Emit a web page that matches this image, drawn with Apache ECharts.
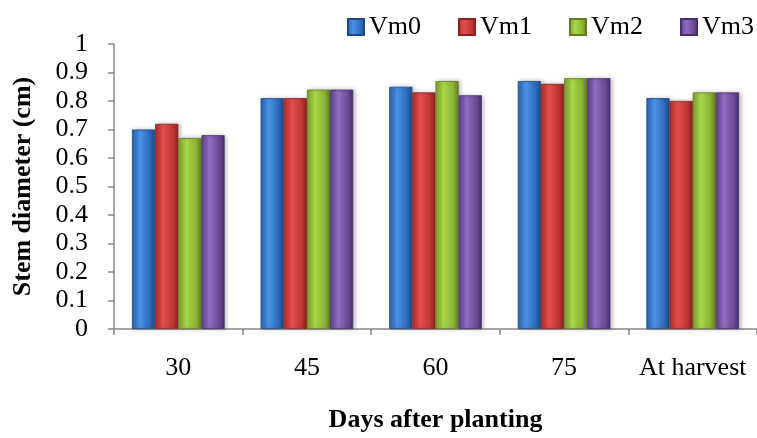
<!DOCTYPE html>
<html>
<head>
<meta charset="utf-8">
<script src="https://cdn.jsdelivr.net/npm/echarts@6/dist/echarts.min.js"></script>
<style>html,body{margin:0;padding:0;background:#fff;}#c{width:757px;height:438px;}</style>
</head>
<body>
<div id="c"></div>
<script>
const categories = ['30', '45', '60', '75', 'At harvest'];
const seriesNames = ['Vm0', 'Vm1', 'Vm2', 'Vm3'];
const vm0 = [0.70, 0.81, 0.85, 0.87, 0.81];
const vm1 = [0.72, 0.81, 0.83, 0.86, 0.80];
const vm2 = [0.67, 0.84, 0.87, 0.88, 0.83];
const vm3 = [0.68, 0.84, 0.82, 0.88, 0.83];
const yTicks = [0, 0.1, 0.2, 0.3, 0.4, 0.5, 0.6, 0.7, 0.8, 0.9, 1];

const palette = [
  ['#2a62b0', '#4c92e4', '#2f6cc0', '#1f4a85'],
  ['#b02e2c', '#e34e4b', '#c03835', '#8c2221'],
  ['#7fa02c', '#aad64a', '#8db636', '#627d22'],
  ['#5e4289', '#8f6cc0', '#6c4c9a', '#48306a']
];
function grad(p) {
  return new echarts.graphic.LinearGradient(0, 0, 1, 0, [
    { offset: 0, color: p[0] },
    { offset: 0.35, color: p[1] },
    { offset: 0.75, color: p[2] },
    { offset: 1, color: p[3] }
  ]);
}
const data = [vm0, vm1, vm2, vm3];
const font = 'Liberation Serif, Times New Roman, serif';

const chart = echarts.init(document.getElementById('c'), null, { renderer: 'canvas' });
chart.setOption({
  animation: false,
  backgroundColor: '#fff',
  legend: {
    data: seriesNames,
    left: 347,
    top: 14,
    padding: 0,
    itemWidth: 16,
    itemHeight: 16,
    itemGap: 37,
    icon: 'rect',
    textStyle: { fontFamily: font, fontSize: 26, color: '#000' }
  },
  grid: { left: 114, right: -10, top: 44, bottom: 104, containLabel: false },
  xAxis: {
    type: 'category',
    data: categories,
    name: 'Days after planting',
    nameLocation: 'middle',
    nameGap: 78,
    nameTextStyle: { fontFamily: font, fontSize: 26, fontWeight: 'bold', color: '#000' },
    axisLine: { lineStyle: { color: '#888', width: 1.5 } },
    axisTick: { show: true, length: 6, lineStyle: { color: '#888', width: 1.5 } },
    axisLabel: { interval: 0, hideOverlap: false, fontFamily: font, fontSize: 26, color: '#000', margin: 26 }
  },
  yAxis: {
    type: 'value',
    min: 0,
    max: 1,
    interval: 0.1,
    name: 'Stem diameter (cm)',
    nameLocation: 'middle',
    nameGap: 78,
    nameRotate: 90,
    nameTextStyle: { fontFamily: font, fontSize: 26, fontWeight: 'bold', color: '#000' },
    axisLine: { show: true, lineStyle: { color: '#888', width: 1.5 } },
    axisTick: { show: true, length: 6, lineStyle: { color: '#888', width: 1.5 } },
    splitLine: { show: false },
    axisLabel: {
      fontFamily: font, fontSize: 26, color: '#000', margin: 26,
      formatter: function (v) {
        const t = yTicks.find(x => Math.abs(x - v) < 1e-9);
        return t === undefined ? '' : String(t);
      }
    }
  },
  series: data.map((d, i) => ({
    name: seriesNames[i],
    type: 'bar',
    data: d,
    barGap: '0%',
    barCategoryGap: '28%',
    itemStyle: {
      color: grad(palette[i]),
      borderColor: palette[i][3],
      borderWidth: 0.8,
      shadowColor: 'rgba(0,0,0,0.25)',
      shadowBlur: 4,
      shadowOffsetX: 2
    }
  }))
});
</script>
</body>
</html>
